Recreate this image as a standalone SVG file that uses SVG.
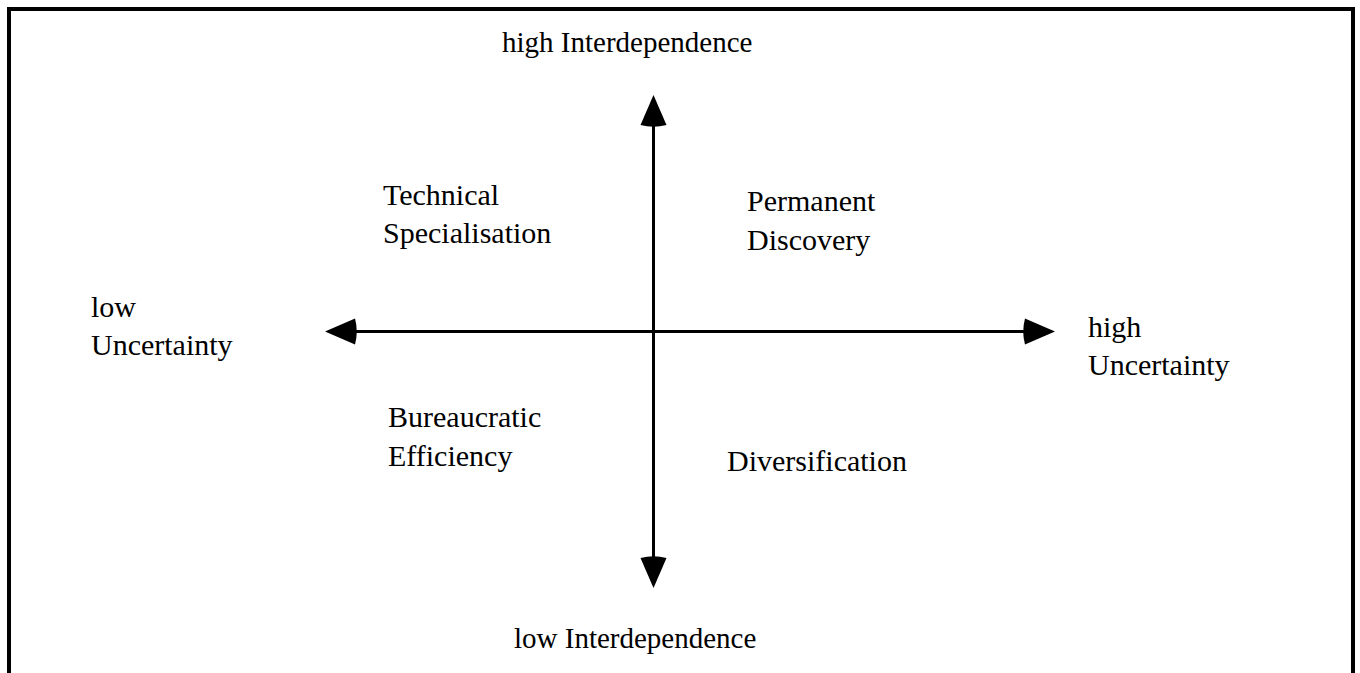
<svg xmlns="http://www.w3.org/2000/svg" width="1360" height="673" viewBox="0 0 1360 673">
  <defs>
    <style>
      .frame { fill: none; stroke: #000; stroke-width: 4; }
      .axis { fill: none; stroke: #000; stroke-width: 3; marker-start: url(#cone); marker-end: url(#cone); }
      text { font-family: "Liberation Serif", "Times New Roman", serif; font-size: 30px; fill: #000; }
      .pole { font-size: 29px; }
    </style>
    <!-- cone-shaped arrowhead; base sits on the line end, tip points outward -->
    <marker id="cone" markerUnits="userSpaceOnUse" markerWidth="34" markerHeight="28"
            viewBox="-2 0 34 28" refX="2" refY="13.5" orient="auto-start-reverse" overflow="visible">
      <path d="M2,0.5 L32,13.5 L2,26.5 Q-1.5,13.5 2,0.5 Z" fill="#000"/>
    </marker>
  </defs>

  <rect width="1360" height="673" fill="#fff"/>

  <!-- outer frame, open at the bottom -->
  <path class="frame" d="M9,673 V9 H1353 V673"/>

  <g id="connectors">
    <line class="axis" x1="355" y1="331.5" x2="1025" y2="331.5"/>
    <line class="axis" x1="653.5" y1="125" x2="653.5" y2="558"/>
  </g>

  <g id="high-interdependence"><text class="pole" x="502" y="52">high Interdependence</text></g>
  <g id="low-interdependence"><text class="pole" x="514" y="648">low Interdependence</text></g>
  <g id="low-uncertainty">
    <text x="91" y="317">low</text>
    <text x="91" y="355">Uncertainty</text>
  </g>
  <g id="high-uncertainty">
    <text x="1088" y="337">high</text>
    <text x="1088" y="375">Uncertainty</text>
  </g>
  <g id="technical-specialisation">
    <text x="383" y="205">Technical</text>
    <text x="383" y="243">Specialisation</text>
  </g>
  <g id="permanent-discovery">
    <text x="747" y="211">Permanent</text>
    <text x="747" y="250">Discovery</text>
  </g>
  <g id="bureaucratic-efficiency">
    <text x="388" y="427">Bureaucratic</text>
    <text x="388" y="466">Efficiency</text>
  </g>
  <g id="diversification"><text x="727" y="471">Diversification</text></g>
</svg>
